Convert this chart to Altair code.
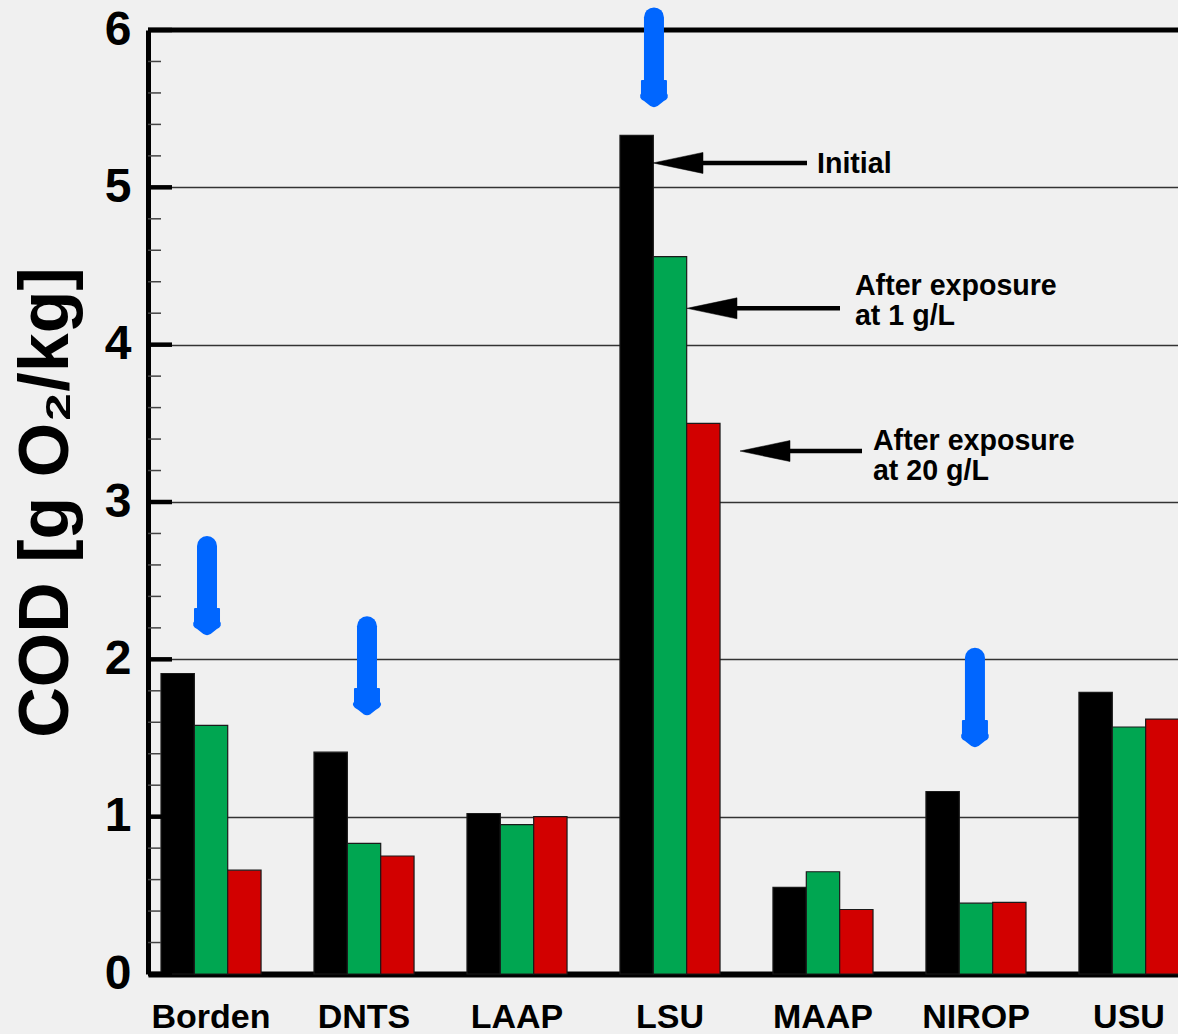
import altair as alt
import pandas as pd

# ---------------- data ----------------
sites = ["Borden", "DNTS", "LAAP", "LSU", "MAAP", "NIROP", "USU"]
series = ["Initial", "After exposure at 1 g/L", "After exposure at 20 g/L"]
initial = [1.91, 1.41, 1.02, 5.33, 0.55, 1.16, 1.79]
after_1 = [1.58, 0.83, 0.95, 4.56, 0.65, 0.45, 1.57]
after_20 = [0.66, 0.75, 1.00, 3.50, 0.41, 0.455, 1.62]
colors = ["#000000", "#00A651", "#D20000"]

y_ticks = [0, 1, 2, 3, 4, 5, 6]
minor_ticks = [round(i * 0.2, 1) for i in range(31) if i % 5 != 0]

# blue arrows: site, top value, head value, pixel nudge from band start
arrow_sites = ["Borden", "DNTS", "LSU", "NIROP"]
arrow_top = [2.72, 2.21, 6.08, 2.01]
arrow_head = [2.244, 1.735, 5.60, 1.532]
arrow_dx = [46, 53, 34, 49]

# black annotation arrows at LSU (pixel nudges from band centre)
ann_y = [5.155, 4.231, 3.324]
ann_tip = [-17, 17, 70]
ann_end = [137, 170, 192]
ann_text = ["Initial", "After exposure", "at 1 g/L", "After exposure", "at 20 g/L"]
ann_text_y = [5.089, 4.316, 4.125, 3.331, 3.140]
ann_text_dx = [197, 235, 235, 253, 253]   # from band start

FONT = "Liberation Sans"
W, H = 1030, 944
RANGE_W = 1044  # scale runs past the right edge of the page, as in the original

rows = []
for i, s in enumerate(sites):
    for ser, vals in zip(series, [initial, after_1, after_20]):
        rows.append({"site": s, "series": ser, "value": vals[i]})
bars_df = pd.DataFrame(rows)

xscale = alt.Scale(domain=sites, range=[0, RANGE_W], paddingInner=0.346, paddingOuter=0.085)
yscale = alt.Scale(domain=[0, 6], nice=False, zero=True)

x_enc = alt.X("site:N", scale=xscale, sort=sites,
              axis=alt.Axis(title=None, labelAngle=0, ticks=False, tickSize=0,
                            domain=True, domainColor="#000000", domainWidth=6,
                            labelFont=FONT, labelFontSize=34, labelFontWeight="bold",
                            labelColor="#000000", labelPadding=26, grid=False))

bars = alt.Chart(bars_df).mark_bar(stroke="#1a1a1a", strokeWidth=1.2).encode(
    x=x_enc,
    xOffset=alt.XOffset("series:N", sort=series,
                        scale=alt.Scale(domain=series, paddingInner=0, paddingOuter=0)),
    y=alt.Y("value:Q", scale=yscale,
            axis=alt.Axis(title="COD [g O₂/kg]", values=y_ticks, format="d",
                          ticks=False, tickSize=0, grid=True, gridColor="#333333",
                          gridWidth=1.3, domain=True, domainColor="#000000", domainWidth=5,
                          labelFont=FONT, labelFontSize=48, labelFontWeight="bold",
                          labelColor="#000000", labelPadding=17,
                          titleFont=FONT, titleFontSize=70, titleFontWeight="bold",
                          titleColor="#000000", titlePadding=22)),
    color=alt.Color("series:N", sort=series,
                    scale=alt.Scale(domain=series, range=colors), legend=None),
)

major_df = pd.DataFrame({"v": y_ticks})
minor_df = pd.DataFrame({"v": minor_ticks})
major = alt.Chart(major_df).mark_rule(color="#000000", strokeWidth=4.5).encode(
    y=alt.Y("v:Q", scale=yscale), x=alt.value(0), x2=alt.value(24))
minor = alt.Chart(minor_df).mark_rule(color="#444444", strokeWidth=1.5).encode(
    y=alt.Y("v:Q", scale=yscale), x=alt.value(0), x2=alt.value(13))

top_line = alt.Chart(pd.DataFrame({"v": [6]})).mark_rule(
    color="#000000", strokeWidth=5).encode(y=alt.Y("v:Q", scale=yscale))

arrows_df = pd.DataFrame({"site": arrow_sites, "top": arrow_top,
                          "head": arrow_head, "dx": arrow_dx})
blue = "#0066FF"
blue_shaft = alt.Chart(arrows_df).mark_rule(
    color=blue, strokeWidth=20, strokeCap="round").encode(
    x=alt.X("site:N", scale=xscale, sort=sites),
    xOffset=alt.XOffset("dx:Q", scale=None),
    y=alt.Y("top:Q", scale=yscale), y2="head:Q")
blue_head = alt.Chart(arrows_df).mark_point(
    shape=("M-0.8,-0.8 L0.8,-0.8 L0.8,0.05 Q1,0.3 0.6,0.5 L0.2,0.82 "
           "Q0,0.95 -0.2,0.82 L-0.6,0.5 Q-1,0.3 -0.8,0.05 Z"),
    size=900, filled=True, fill=blue, stroke=blue, strokeWidth=2,
    strokeJoin="round", opacity=1).encode(
    x=alt.X("site:N", scale=xscale, sort=sites),
    xOffset=alt.XOffset("dx:Q", scale=None),
    y=alt.Y("head:Q", scale=yscale))

layers = [bars, minor, major, top_line, blue_shaft, blue_head]

# black arrows pointing at the LSU bars
for yv, tip, end in zip(ann_y, ann_tip, ann_end):
    d = pd.DataFrame({"site": ["LSU"], "y": [yv]})
    shaft = alt.Chart(d).mark_rule(color="#000000", strokeWidth=4.5,
                                   xOffset=tip + 25, x2Offset=end).encode(
        x=alt.X("site:N", scale=xscale, sort=sites),
        x2=alt.X2("site:N"),
        y=alt.Y("y:Q", scale=yscale))
    head = alt.Chart(d).mark_point(
        shape="M-1,0 L1,-0.42 L1,0.42 Z", size=2500, filled=True,
        fill="#000000", stroke="#000000", strokeWidth=0.5, opacity=1,
        xOffset=tip + 25).encode(
        x=alt.X("site:N", scale=xscale, sort=sites),
        y=alt.Y("y:Q", scale=yscale))
    layers += [shaft, head]

text_df = pd.DataFrame({"site": ["LSU"] * len(ann_text), "t": ann_text,
                        "y": ann_text_y, "dx": ann_text_dx})
texts = alt.Chart(text_df).mark_text(
    align="left", baseline="alphabetic", font=FONT, fontSize=28.6,
    fontWeight="bold", color="#000000").encode(
    x=alt.X("site:N", scale=xscale, sort=sites),
    xOffset=alt.XOffset("dx:Q", scale=None),
    y=alt.Y("y:Q", scale=yscale),
    text="t:N")
layers.append(texts)

chart = alt.layer(*layers).properties(
    width=W, height=H,
    padding={"left": 148, "top": 30, "right": 0, "bottom": 60},
    autosize=alt.AutoSizeParams(type="none"),
    background="#F0F0F0",
).configure_view(stroke=None).configure_axis(labelFont=FONT)

chart.save("out.html", embed_options={"renderer": "svg", "actions": False})
